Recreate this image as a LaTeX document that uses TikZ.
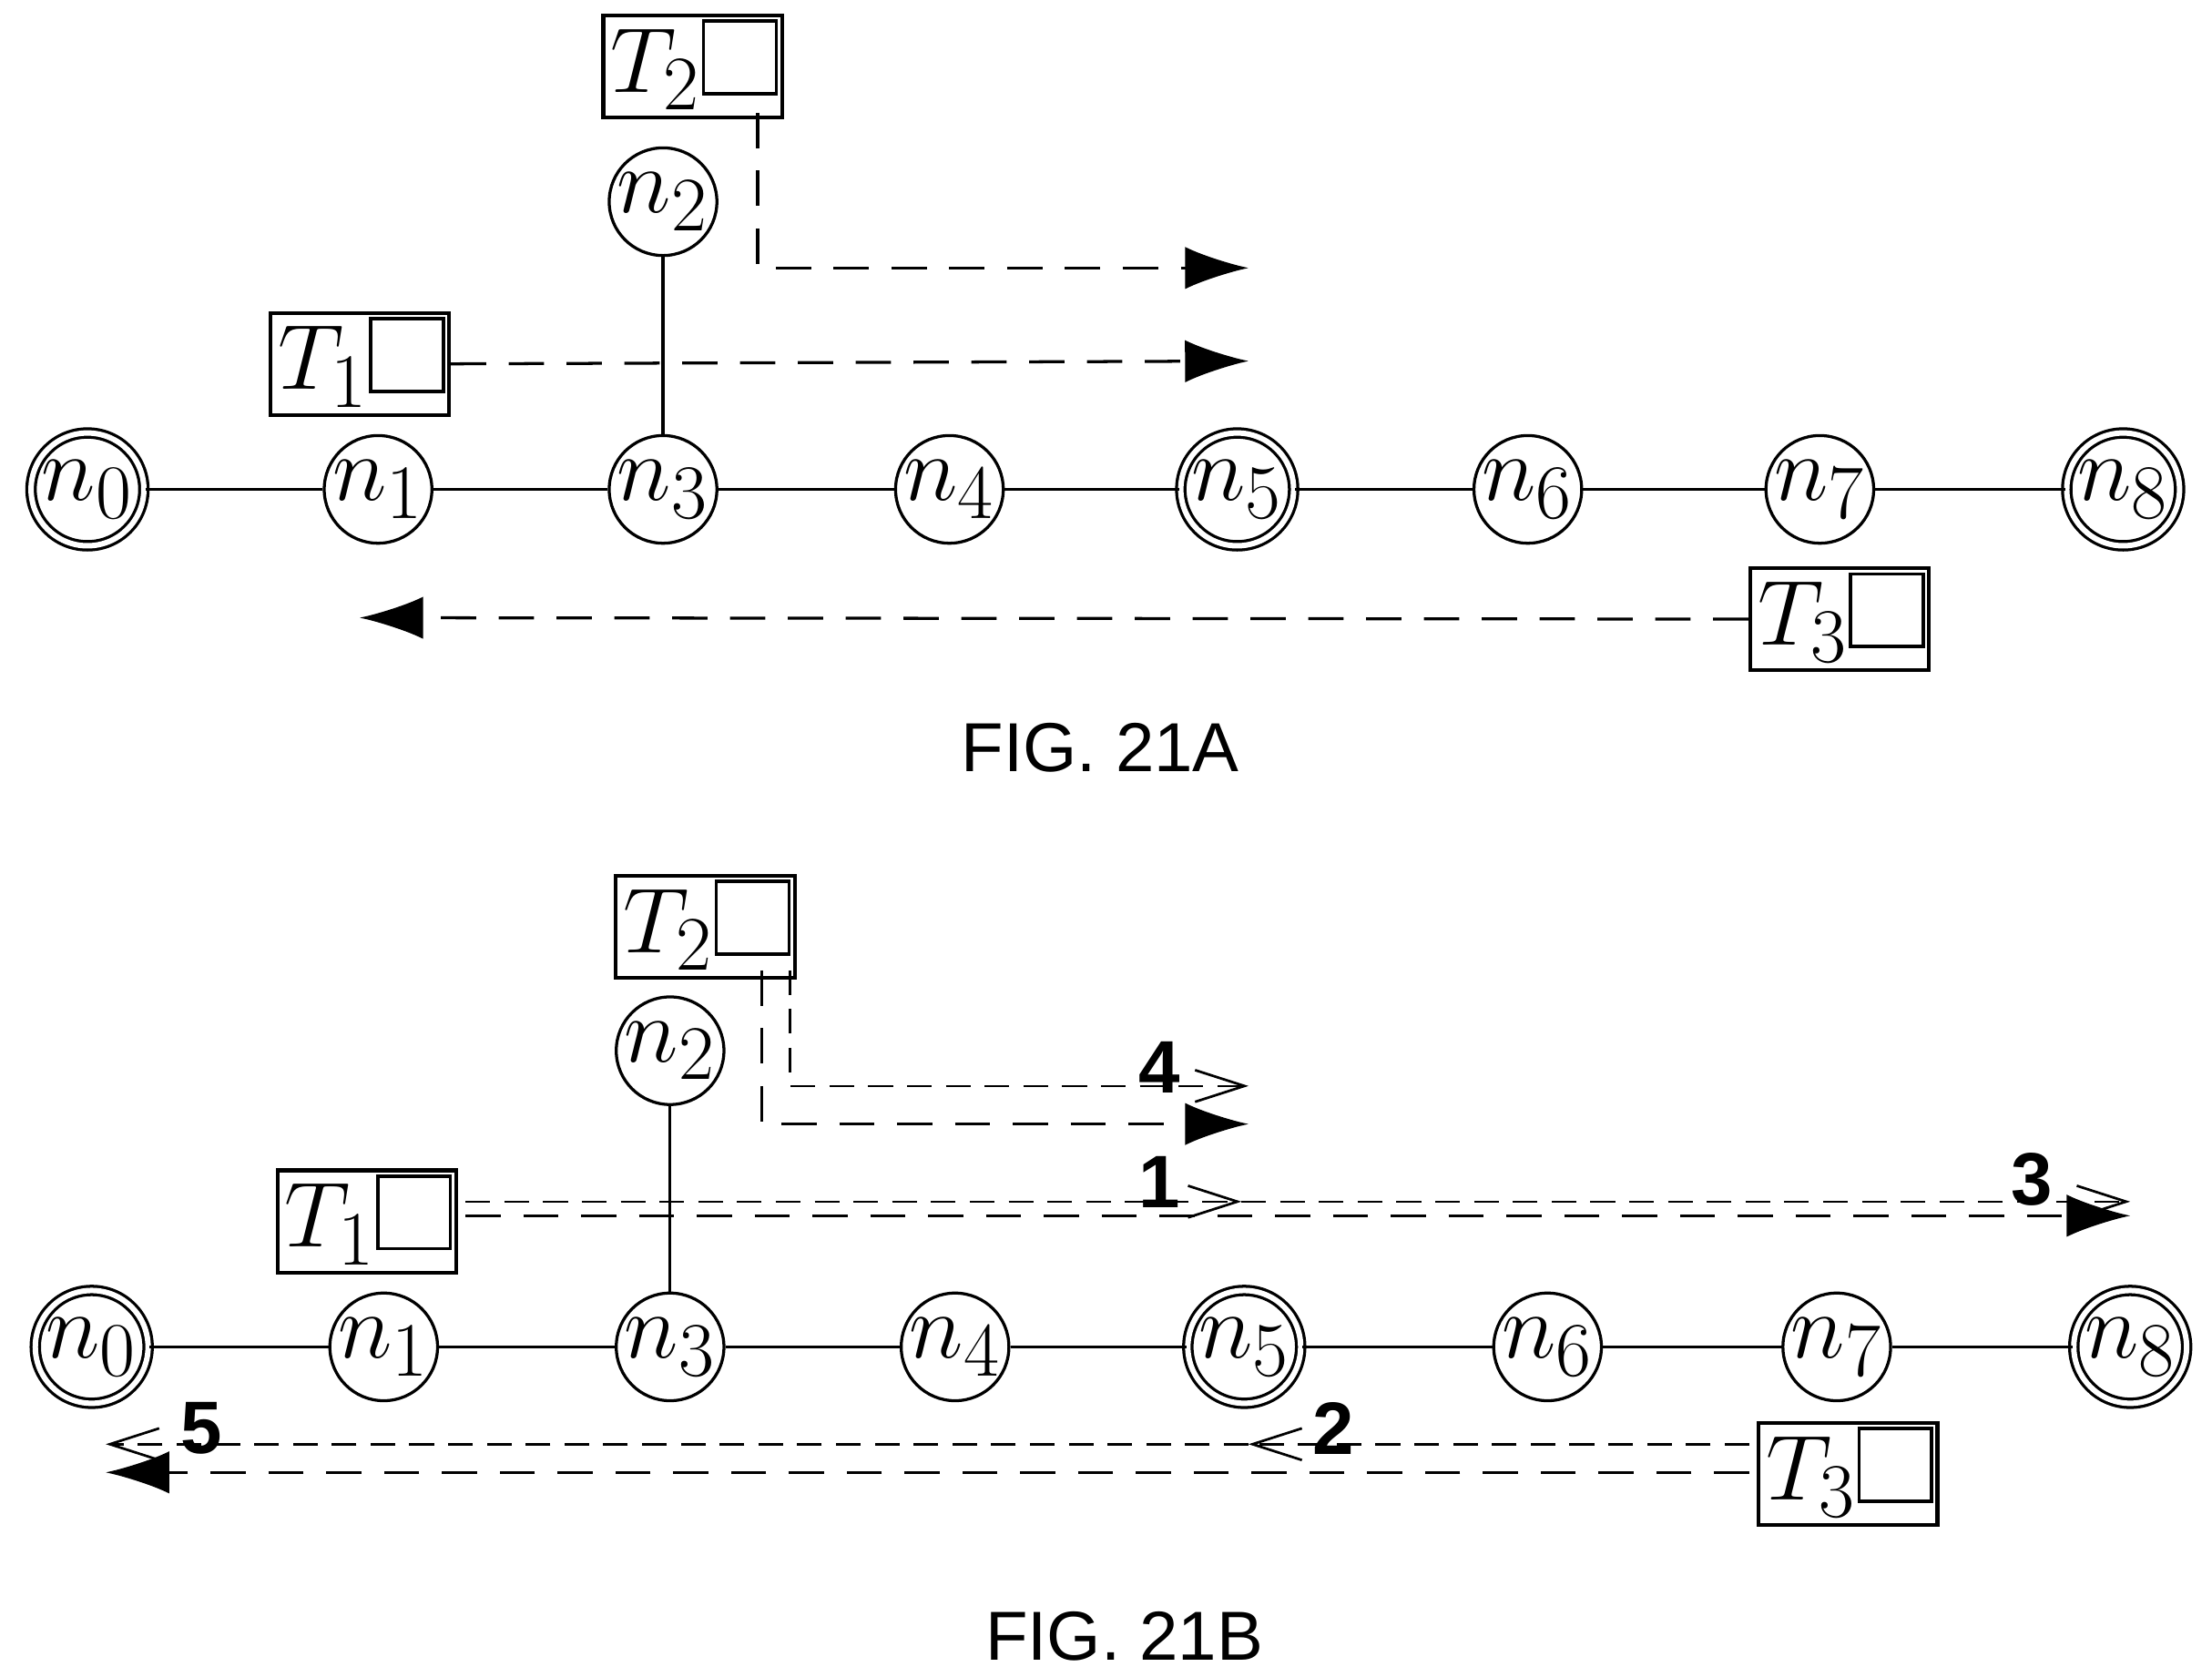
\documentclass[tikz,border=0pt]{standalone}
\usepackage{graphicx}
\usepackage{fontspec}
\newfontfamily\capfont{Liberation Sans}
\usetikzlibrary{arrows.meta}
\newcommand{\nlab}[1]{\scalebox{1.5}{\Huge$#1$}}
\begin{document}
\begin{tikzpicture}[x=0.02cm,y=-0.02cm,line width=1.2pt,
 nd/.style={circle,draw,minimum size=1.45cm,inner sep=0pt},
 dn/.style={nd,double,double distance=2.2pt,minimum size=1.6cm},
 tb/.style={draw,line width=1.5pt,inner sep=3pt},
 dsh/.style={dash pattern=on 0.5cm off 0.32cm},
 fa/.style={dsh,-{Latex[length=0.9cm,width=0.6cm]}},
 oa/.style={dash pattern=on 0.35cm off 0.2cm,line width=0.9pt,-{Straight Barb[length=0.7cm,width=0.45cm,line width=1pt]}},
 lb/.style={font=\capfont\fontsize{30}{34}\selectfont\bfseries},
 figcap/.style={font=\capfont\fontsize{28}{32}\selectfont}]
\useasboundingbox (0,0) rectangle (1568,1189);
\newcommand{\sq}{\,\setlength{\unitlength}{1pt}\linethickness{1.3pt}\raisebox{0pt}{\framebox(28,28){}}}
% FIG A
\node[dn] (a0) at (62,347) {\nlab{n_0}};
\node[nd] (a1) at (268,347) {\nlab{n_1}};
\node[nd] (a3) at (470,347) {\nlab{n_3}};
\node[nd] (a4) at (673,347) {\nlab{n_4}};
\node[dn] (a5) at (877,347) {\nlab{n_5}};
\node[nd] (a6) at (1083,347) {\nlab{n_6}};
\node[nd] (a7) at (1290,347) {\nlab{n_7}};
\node[dn] (a8) at (1505,347) {\nlab{n_8}};
\node[nd] (a2) at (470,143) {\nlab{n_2}};
\draw (a0)--(a1)--(a3)--(a4)--(a5)--(a6)--(a7)--(a8); \draw (a2)--(a3);
\node[tb] (at2) at (491,47) {\nlab{T_2}\sq};
\node[tb] (at1) at (255,258) {\nlab{T_1}\sq};
\node[tb] (at3) at (1304,439) {\nlab{T_3}\sq};
\coordinate (ae2) at (885,190); \coordinate (ae1) at (885,256); \coordinate (ae3) at (255,438);
\draw[fa] (537,80) |- (ae2);
\draw[fa] (at1.east) -- (ae1);
\draw[fa] (at3.west) -- (ae3);
\node[figcap] (ca) at (780,530) {FIG. 21A};
% FIG B
\node[dn] (b0) at (65,955) {\nlab{n_0}};
\node[nd] (b1) at (272,955) {\nlab{n_1}};
\node[nd] (b3) at (475,955) {\nlab{n_3}};
\node[nd] (b4) at (677,955) {\nlab{n_4}};
\node[dn] (b5) at (882,955) {\nlab{n_5}};
\node[nd] (b6) at (1097,955) {\nlab{n_6}};
\node[nd] (b7) at (1302,955) {\nlab{n_7}};
\node[dn] (b8) at (1510,955) {\nlab{n_8}};
\node[nd] (b2) at (475,745) {\nlab{n_2}};
\draw (b0)--(b1)--(b3)--(b4)--(b5)--(b6)--(b7)--(b8); \draw (b2)--(b3);
\node[tb] (bt2) at (500,657) {\nlab{T_2}\sq};
\node[tb] (bt1) at (260,866) {\nlab{T_1}\sq};
\node[tb] (bt3) at (1310,1045) {\nlab{T_3}\sq};
\coordinate (e4) at (885,770); \coordinate (e4f) at (885,797);
\coordinate (e1) at (880,852); \coordinate (e3) at (1510,852); \coordinate (e3f) at (1510,862);
\coordinate (e2) at (885,1024); \coordinate (e5) at (75,1024); \coordinate (e5f) at (75,1044);
\draw[fa] (540,688) |- (e4f);
\draw[oa] (560,688) |- (e4);
\draw[oa] (330,852) -- (e1);
\draw[oa] (330,852) -- (e3);
\draw[fa] (330,862) -- (e3f);
\draw[oa] (1240,1024) -- (e2);
\draw[oa] (885,1024) -- (e5);
\draw[fa] (1240,1044) -- (e5f);
\node[lb] (l4) at (822,757) {4};
\node[lb] (l1) at (822,838) {1};
\node[lb] (l3) at (1440,836) {3};
\node[lb] (l2) at (945,1013) {2};
\node[lb] (l5) at (143,1013) {5};
\node[figcap] (cb) at (797,1160) {FIG. 21B};
\end{tikzpicture}
\end{document}
